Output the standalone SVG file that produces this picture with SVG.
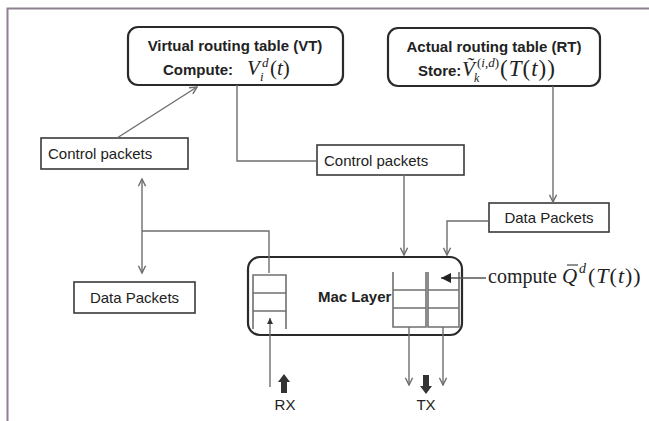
<svg xmlns="http://www.w3.org/2000/svg" width="649" height="421" viewBox="0 0 649 421">
<defs>
<style>
.box{fill:#fff;stroke:#3a3a3a;stroke-width:1.6}
.rbox{fill:#fff;stroke:#2a2a2a;stroke-width:2.2}
.conn{fill:none;stroke:#6e6e6e;stroke-width:1.4}
.q{fill:none;stroke:#707070;stroke-width:1.6}
.lbl{font-family:"Liberation Sans",Arial,sans-serif;font-size:15px;fill:#222}
.b{font-weight:bold}
.m{font-family:"Liberation Serif","Times New Roman",serif;fill:#222}
.i{font-style:italic}
.frame{stroke:#8e8090;stroke-width:2;fill:none}
</style>
<marker id="open" viewBox="0 0 10 10" refX="9" refY="5" markerWidth="9" markerHeight="9" markerUnits="userSpaceOnUse" orient="auto-start-reverse">
<path d="M1,1 L9,5 L1,9" fill="none" stroke="#6e6e6e" stroke-width="1.6"/>
</marker>
<marker id="solid" viewBox="0 0 10 10" refX="10" refY="5" markerWidth="11" markerHeight="10" markerUnits="userSpaceOnUse" orient="auto">
<path d="M0,0 L10,5 L0,10 z" fill="#222"/>
</marker>
<marker id="small" viewBox="0 0 10 10" refX="10" refY="5" markerWidth="7" markerHeight="6" markerUnits="userSpaceOnUse" orient="auto">
<path d="M0,0 L10,5 L0,10 z" fill="#333"/>
</marker>
</defs>
<rect width="649" height="421" fill="#fff"/>
<path class="frame" d="M7.5,421 V8.5 H649"/>

<g id="vt">
<rect class="rbox" x="128" y="27" width="215" height="58" rx="10"/>
<text class="lbl b" x="235" y="51" text-anchor="middle">Virtual routing table (VT)</text>
<text class="lbl b" x="163" y="75">Compute:</text>
<text class="m i" x="247" y="75" font-size="21">V</text>
<text class="m i" x="262" y="67" font-size="13">d</text>
<text class="m i" x="260" y="81" font-size="13">i</text>
<text class="m" x="270" y="75" font-size="21">(<tspan class="i">t</tspan>)</text>
</g>

<g id="rt">
<rect class="rbox" x="388" y="28" width="212" height="58" rx="10"/>
<text class="lbl b" x="494" y="52" text-anchor="middle">Actual routing table (RT)</text>
<text class="lbl b" x="418" y="76">Store:</text>
<text class="m i" x="462" y="76" font-size="21">Ṽ</text>
<text class="m" x="477" y="67" font-size="13">(<tspan class="i">i</tspan>,<tspan class="i">d</tspan>)</text>
<text class="m i" x="474" y="82" font-size="12">k</text>
<text class="m" x="500" y="76" font-size="23" letter-spacing="1">(<tspan class="i">T</tspan>(<tspan class="i">t</tspan>))</text>
</g>

<g id="ctrl-left">
<rect class="box" x="41" y="138" width="147" height="31"/>
<text class="lbl" x="48" y="159">Control packets</text>
</g>

<g id="ctrl-mid">
<rect class="box" x="317" y="145" width="147" height="30"/>
<text class="lbl" x="324" y="166">Control packets</text>
</g>

<g id="data-left">
<rect class="box" x="74" y="282" width="121" height="31"/>
<text class="lbl" x="134.5" y="303" text-anchor="middle" font-size="14">Data Packets</text>
</g>

<g id="data-right">
<rect class="box" x="489" y="203" width="120" height="29"/>
<text class="lbl" x="549" y="223" text-anchor="middle" font-size="14">Data Packets</text>
</g>

<g id="mac">
<rect class="rbox" x="248" y="257" width="214" height="78" rx="12"/>
<text class="lbl b" x="318" y="302">Mac Layer</text>
<path class="q" d="M253,329 V275 H286 V329 M253,293 H286 M253,311 H286"/>
<path class="q" d="M393,272 V327 H426 V272 M393,290 H426 M393,308 H426"/>
<path class="q" d="M428,272 V327 H459 V272 M428,290 H459 M428,308 H459"/>
</g>

<g id="compute">
<text class="m" x="488" y="283" font-size="20">compute</text>
<text class="m i" x="562" y="283" font-size="21">Q</text>
<line x1="567" y1="265" x2="578" y2="265" stroke="#222" stroke-width="1"/>
<text class="m i" x="579" y="273" font-size="14">d</text>
<text class="m" x="588" y="283" font-size="22" letter-spacing="1">(<tspan class="i">T</tspan>(<tspan class="i">t</tspan>))</text>
</g>

<g id="rx">
<polygon points="284,374 290,382 287,382 287,393 281,393 281,382 278,382" fill="#333"/>
<text class="lbl" x="285" y="410" text-anchor="middle" font-size="14">RX</text>
</g>

<g id="tx">
<polygon points="423,375 429,375 429,386 432,386 426,394 420,386 423,386" fill="#333"/>
<text class="lbl" x="426" y="410" text-anchor="middle" font-size="14">TX</text>
</g>

<g id="connectors">
<line class="conn" x1="117" y1="138" x2="197" y2="87" marker-end="url(#open)"/>
<polyline class="conn" points="237,85 237,161 317,161"/>
<line class="conn" x1="142" y1="179" x2="142" y2="273" marker-start="url(#open)" marker-end="url(#open)"/>
<polyline class="conn" points="142,231 269,231 269,273"/>
<line class="conn" x1="404" y1="175" x2="404" y2="255" marker-end="url(#open)"/>
<line class="conn" x1="553" y1="86" x2="553" y2="202" marker-end="url(#open)"/>
<polyline class="conn" points="489,221 447,221 447,255" marker-end="url(#open)"/>
<line x1="486" y1="278" x2="441" y2="278" stroke="#555" stroke-width="1.4" marker-end="url(#solid)"/>
<line class="conn" x1="270" y1="387" x2="270" y2="318" marker-end="url(#small)"/>
<line class="conn" x1="409" y1="327" x2="409" y2="385" marker-end="url(#open)"/>
<line class="conn" x1="443" y1="327" x2="443" y2="385" marker-end="url(#open)"/>
</g>
</svg>
